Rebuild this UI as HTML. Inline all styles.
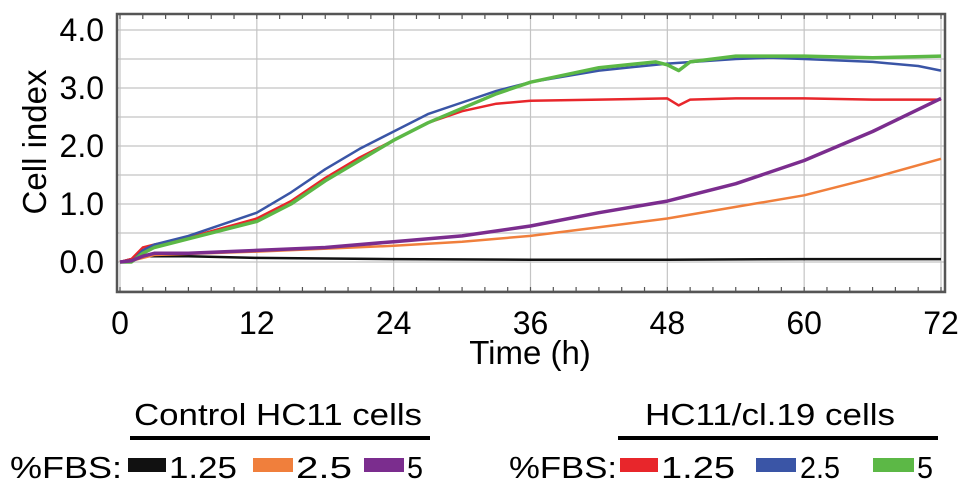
<!DOCTYPE html>
<html><head><meta charset="utf-8"><style>
html,body{margin:0;padding:0;background:#fff;}
svg{display:block;font-family:"Liberation Sans",sans-serif;}
</style></head><body>
<svg id="chart" width="969" height="492" viewBox="0 0 969 492" xmlns="http://www.w3.org/2000/svg">
<g id="grid"></g>
<g id="series"></g>
<rect x="117" y="14" width="828" height="278" fill="none" stroke="#555" stroke-width="2.5"/>
<g id="axes"></g>
<text x="530" y="364" font-size="33" text-anchor="middle">Time (h)</text>
<text transform="translate(46,142) rotate(-90)" font-size="33" text-anchor="middle">Cell index</text>
<g>
<text x="134" y="425" font-size="31" textLength="288" lengthAdjust="spacingAndGlyphs">Control HC11 cells</text>
<line x1="130" y1="438" x2="430" y2="438" stroke="#000" stroke-width="4"/>
<text x="10" y="478" font-size="31" textLength="112" lengthAdjust="spacingAndGlyphs">%FBS:</text>
<rect x="128" y="458" width="38" height="14" fill="#111"/>
<text x="169" y="478" font-size="31" textLength="68" lengthAdjust="spacingAndGlyphs">1.25</text>
<rect x="253" y="458" width="40" height="14" fill="#f07f3c"/>
<text x="296" y="478" font-size="31" textLength="56" lengthAdjust="spacingAndGlyphs">2.5</text>
<rect x="364" y="458" width="40" height="14" fill="#7b2d8e"/>
<text x="407" y="478" font-size="31" textLength="16" lengthAdjust="spacingAndGlyphs">5</text>
</g>
<g>
<text x="645" y="425" font-size="31" textLength="250" lengthAdjust="spacingAndGlyphs">HC11/cl.19 cells</text>
<line x1="618" y1="438" x2="938" y2="438" stroke="#000" stroke-width="4"/>
<text x="509" y="478" font-size="31" textLength="108" lengthAdjust="spacingAndGlyphs">%FBS:</text>
<rect x="620" y="458" width="38" height="14" fill="#e8262b"/>
<text x="661" y="478" font-size="31" textLength="74" lengthAdjust="spacingAndGlyphs">1.25</text>
<rect x="756" y="458" width="40" height="14" fill="#3a55a6"/>
<text x="800" y="478" font-size="31" textLength="40" lengthAdjust="spacingAndGlyphs">2.5</text>
<rect x="873" y="458" width="41" height="14" fill="#5cb846"/>
<text x="917" y="478" font-size="31" textLength="16" lengthAdjust="spacingAndGlyphs">5</text>
</g>
</svg>
<script>
const xTicks = [0, 12, 24, 36, 48, 60, 72];
const yTicks = [0, 1, 2, 3, 4];
const yTickLabels = ["0.0", "1.0", "2.0", "3.0", "4.0"];
const blackT = [0, 2, 6, 12, 24, 36, 48, 60, 72];
const blackV = [0, 0.1, 0.1, 0.07, 0.05, 0.04, 0.04, 0.05, 0.05];
const orangeT = [0, 1, 3, 12, 24, 30, 36, 42, 48, 54, 60, 66, 72];
const orangeV = [0, 0.02, 0.12, 0.18, 0.28, 0.35, 0.45, 0.6, 0.75, 0.95, 1.15, 1.45, 1.78];
const purpleT = [0, 1, 2, 3, 6, 12, 18, 24, 30, 36, 42, 48, 54, 60, 66, 72];
const purpleV = [0, 0.02, 0.1, 0.15, 0.15, 0.2, 0.25, 0.35, 0.45, 0.62, 0.85, 1.05, 1.35, 1.75, 2.25, 2.82];
const redT = [0, 1, 2, 3, 6, 12, 15, 18, 21, 24, 27, 30, 33, 36, 42, 48, 49, 50, 54, 60, 66, 72];
const redV = [0, 0.05, 0.25, 0.3, 0.42, 0.75, 1.05, 1.45, 1.8, 2.1, 2.4, 2.6, 2.73, 2.78, 2.8, 2.82, 2.7, 2.8, 2.82, 2.82, 2.8, 2.8];
const blueT = [0, 1, 2, 3, 6, 9, 12, 15, 18, 21, 24, 27, 30, 33, 36, 42, 48, 54, 57, 60, 66, 70, 72];
const blueV = [0, 0, 0.2, 0.3, 0.45, 0.65, 0.85, 1.2, 1.6, 1.95, 2.25, 2.55, 2.75, 2.95, 3.1, 3.3, 3.42, 3.5, 3.52, 3.5, 3.45, 3.38, 3.3];
const greenT = [0, 1, 2, 3, 6, 12, 15, 18, 21, 24, 27, 30, 33, 36, 42, 47, 48, 49, 50, 54, 60, 66, 72];
const greenV = [0, 0, 0.15, 0.25, 0.4, 0.7, 1.0, 1.4, 1.75, 2.1, 2.4, 2.65, 2.9, 3.1, 3.35, 3.45, 3.4, 3.3, 3.45, 3.55, 3.55, 3.52, 3.55];

const NS = "http://www.w3.org/2000/svg";
const X0 = 120, X1 = 941, Y0 = 262, YU = 58;
function xs(t){ return X0 + (X1 - X0) * t / 72; }
function ys(v){ return Y0 - v * YU; }
function mk(tag, attrs, parent){
  const e = document.createElementNS(NS, tag);
  for (const k in attrs) e.setAttribute(k, attrs[k]);
  parent.appendChild(e); return e;
}
const grid = document.getElementById('grid');
const axes = document.getElementById('axes');
for (let v = -0.5; v <= 4.01; v += 0.5) {
  const l = mk('line', {x1:117, x2:945, y1:ys(v), y2:ys(v), stroke:'#c4c4c4', 'stroke-width':1.2}, grid);
  
  
}
xTicks.forEach(t => {
  const l = mk('line', {x1:xs(t), x2:xs(t), y1:14, y2:292, stroke:'#c4c4c4', 'stroke-width':1.2}, grid);
  
  
  const tx = mk('text', {x:xs(t), y:334, 'font-size':32, 'text-anchor':'middle'}, axes);
  tx.textContent = t;
  
  
});
for (let t = 0; t <= 72; t += 2) {
  const m = mk('line', {x1:xs(t), x2:xs(t), y1:292, y2:287, stroke:'#555', 'stroke-width':1.2}, axes);
  
  
  const m2 = mk('line', {x1:xs(t), x2:xs(t), y1:14, y2:19, stroke:'#555', 'stroke-width':1.2}, axes);
  
  
}
yTicks.forEach((v, i) => {
  const tx = mk('text', {x:104, y:ys(v) + 11, 'font-size':32, 'text-anchor':'end'}, axes);
  tx.textContent = yTickLabels[i];
  
  
});
const series = [
  ['series-control-1.25', blackT, blackV, '#111'],
  ['series-control-2.5', orangeT, orangeV, '#f07f3c'],
  ['series-cl19-1.25', redT, redV, '#e8262b'],
  ['series-cl19-2.5', blueT, blueV, '#3a55a6'],
  ['series-cl19-5', greenT, greenV, '#5cb846'],
  ['series-control-5', purpleT, purpleV, '#7b2d8e']
];
const sg = document.getElementById('series');
series.forEach(s => {
  const d = s[1].map((t, i) => (i ? 'L' : 'M') + xs(t).toFixed(1) + ',' + ys(s[2][i]).toFixed(1)).join(' ');
  const p = mk('path', {d:d, fill:'none', stroke:s[3], 'stroke-width': s[0]==='series-cl19-5'||s[0]==='series-control-5' ? 3.5 : 2.5, 'stroke-linejoin':'round'}, sg);
  
  
});
</script>
</body></html>
